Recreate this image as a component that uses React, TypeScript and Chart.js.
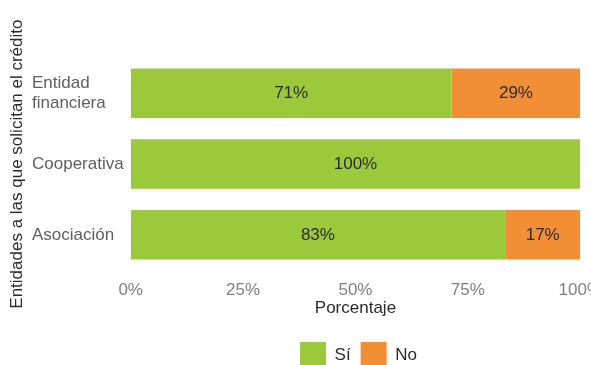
import React, { useEffect, useRef } from "react";
import { Chart, registerables } from "chart.js";

Chart.register(...registerables);

const categories: (string | string[])[] = [["Entidad", "financiera"], "Cooperativa", "Asociación"];
const siValues = [71.4, 100, 83.3];
const noValues = [28.6, 0, 16.7];
const seriesNames = ["Sí", "No"];
const xTicks = [0, 25, 50, 75, 100];
const yTitle = "Entidades a las que solicitan el crédito";
const xTitle = "Porcentaje";

const FONT = "'Liberation Sans', Arial, sans-serif";
const FS = 17;

const dataLabelPlugin = {
  id: "dataLabels",
  afterDatasetsDraw(chart: any) {
    const ctx = chart.ctx;
    ctx.save();
    ctx.font = `${FS}px ${FONT}`;
    ctx.fillStyle = "#2b2b2b";
    ctx.textAlign = "center";
    ctx.textBaseline = "middle";
    chart.data.datasets.forEach((ds: any, di: number) => {
      const meta = chart.getDatasetMeta(di);
      meta.data.forEach((el: any, i: number) => {
        const v = ds.data[i];
        if (!v) return;
        const cx = (el.x + el.base) / 2;
        ctx.fillText(Math.round(v) + "%", cx, el.y);
      });
    });
    ctx.restore();
  },
};

const yTitlePlugin = {
  id: "yTitle",
  afterDraw(chart: any) {
    const ctx = chart.ctx;
    const a = chart.chartArea;
    ctx.save();
    ctx.translate(17, (a.top + a.bottom) / 2);
    ctx.rotate(-Math.PI / 2);
    ctx.font = `${FS}px ${FONT}`;
    ctx.fillStyle = "#2b2b2b";
    ctx.textAlign = "center";
    ctx.textBaseline = "middle";
    ctx.fillText(yTitle, 0, 0);
    ctx.restore();
  },
};

// centre the legend under the plotting area (plus a small offset, as in the reference)
const legendShiftPlugin = {
  id: "legendShift",
  afterLayout(chart: any) {
    const lg = chart.legend;
    const a = chart.chartArea;
    if (!lg) return;
    const target = (a.left + a.right) / 2 + 3;
    const cur = (lg.left + lg.right) / 2;
    const d = target - cur;
    lg.left += d;
    lg.right += d;
  },
};

export default function App() {
  const ref = useRef<HTMLCanvasElement>(null);
  useEffect(() => {
    document.body.style.margin = "0";
    document.documentElement.style.overflow = "hidden";
    document.body.style.overflow = "hidden";
    const chart = new Chart(ref.current!, {
      type: "bar",
      data: {
        labels: categories,
        datasets: [
          { label: seriesNames[0], data: siValues, backgroundColor: "#9aca3c", borderWidth: 0, barPercentage: 0.7, categoryPercentage: 1 },
          { label: seriesNames[1], data: noValues, backgroundColor: "#f28e35", borderWidth: 0, barPercentage: 0.7, categoryPercentage: 1 },
        ],
      },
      options: {
        indexAxis: "y",
        responsive: false,
        animation: false,
        layout: { padding: { top: 58, left: 32, right: 0, bottom: 0 } },
        plugins: {
          tooltip: { enabled: false },
          legend: {
            position: "bottom",
            labels: {
              boxWidth: 26,
              boxHeight: 26,
              padding: 10,
              color: "#2b2b2b",
              font: { family: FONT, size: FS },
            },
          },
        },
        scales: {
          x: {
            stacked: true,
            min: 0,
            max: 100,
            afterBuildTicks: (axis: any) => {
              axis.ticks = xTicks.map((v) => ({ value: v }));
            },
            grid: { display: false, drawTicks: false },
            border: { display: false },
            ticks: {
              padding: 10,
              color: "#7f7f7f",
              font: { family: FONT, size: FS },
              callback: (v: any) => v + "%",
              maxRotation: 0,
            },
            title: {
              display: true,
              text: xTitle,
              color: "#2b2b2b",
              font: { family: FONT, size: FS },
              padding: { top: -12, bottom: 13 },
            },
          },
          y: {
            stacked: true,
            grid: { display: false, drawTicks: false },
            border: { display: false },
            ticks: {
              padding: 3.5,
              crossAlign: "far",
              color: "#5f5f5f",
              font: { family: FONT, size: FS },
            },
            title: { display: false },
          },
        },
      },
      plugins: [dataLabelPlugin, yTitlePlugin, legendShiftPlugin],
    });
    return () => chart.destroy();
  }, []);
  return (
    <div style={{ position: "absolute", left: 0, top: 0 }}>
      <canvas ref={ref} width={612} height={378} style={{ width: 612, height: 378, display: "block" }} />
    </div>
  );
}
